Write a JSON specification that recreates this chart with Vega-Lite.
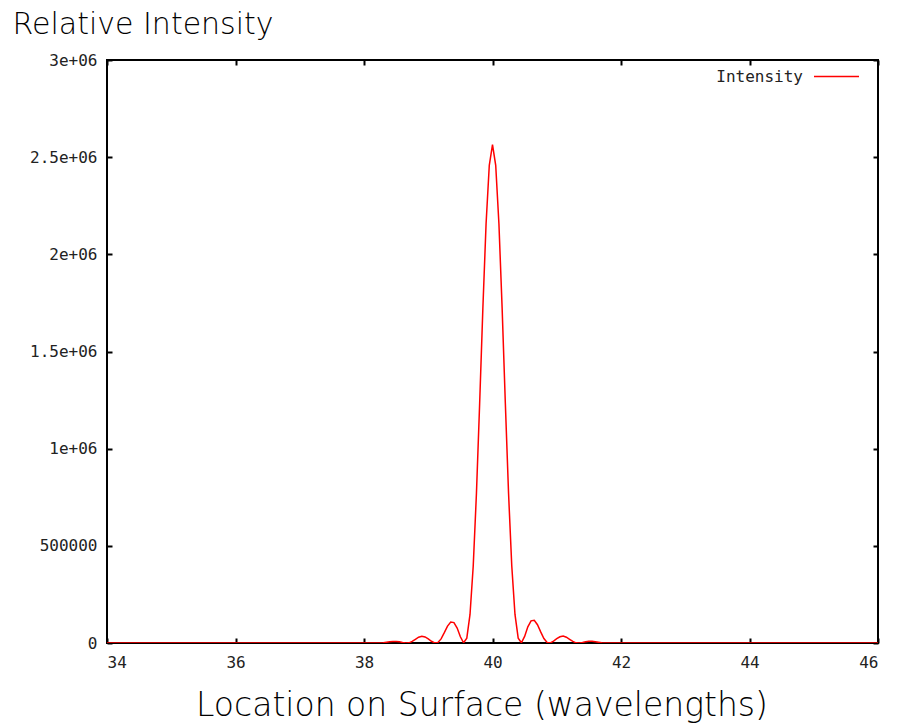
{
  "$schema": "https://vega.github.io/schema/vega-lite/v6.json",
  "autosize": "none",
  "width": 771,
  "height": 583,
  "padding": {"left": 107, "top": 60, "right": 19, "bottom": 85},
  "background": "#ffffff",
  "data": {
    "values": [
      {"x": 34.0, "y": 0, "series": "Intensity"},
      {"x": 38.2, "y": 0, "series": "Intensity"},
      {"x": 38.25, "y": 30, "series": "Intensity"},
      {"x": 38.3, "y": 1200, "series": "Intensity"},
      {"x": 38.35, "y": 3700, "series": "Intensity"},
      {"x": 38.4, "y": 6500, "series": "Intensity"},
      {"x": 38.45, "y": 8300, "series": "Intensity"},
      {"x": 38.5, "y": 8200, "series": "Intensity"},
      {"x": 38.55, "y": 6200, "series": "Intensity"},
      {"x": 38.6, "y": 3000, "series": "Intensity"},
      {"x": 38.65, "y": 500, "series": "Intensity"},
      {"x": 38.7, "y": 900, "series": "Intensity"},
      {"x": 38.75, "y": 8000, "series": "Intensity"},
      {"x": 38.8, "y": 19000, "series": "Intensity"},
      {"x": 38.85, "y": 30000, "series": "Intensity"},
      {"x": 38.9, "y": 35000, "series": "Intensity"},
      {"x": 38.95, "y": 31000, "series": "Intensity"},
      {"x": 39.0, "y": 21000, "series": "Intensity"},
      {"x": 39.05, "y": 9000, "series": "Intensity"},
      {"x": 39.1, "y": 1000, "series": "Intensity"},
      {"x": 39.15, "y": 3000, "series": "Intensity"},
      {"x": 39.2, "y": 21000, "series": "Intensity"},
      {"x": 39.25, "y": 53000, "series": "Intensity"},
      {"x": 39.3, "y": 87000, "series": "Intensity"},
      {"x": 39.35, "y": 108000, "series": "Intensity"},
      {"x": 39.4, "y": 105000, "series": "Intensity"},
      {"x": 39.45, "y": 77000, "series": "Intensity"},
      {"x": 39.5, "y": 32000, "series": "Intensity"},
      {"x": 39.55, "y": 1200, "series": "Intensity"},
      {"x": 39.6, "y": 25000, "series": "Intensity"},
      {"x": 39.65, "y": 147000, "series": "Intensity"},
      {"x": 39.7, "y": 396000, "series": "Intensity"},
      {"x": 39.75, "y": 769000, "series": "Intensity"},
      {"x": 39.8, "y": 1232000, "series": "Intensity"},
      {"x": 39.85, "y": 1722000, "series": "Intensity"},
      {"x": 39.9, "y": 2157000, "series": "Intensity"},
      {"x": 39.95, "y": 2458000, "series": "Intensity"},
      {"x": 40.0, "y": 2565000, "series": "Intensity"},
      {"x": 40.05, "y": 2458000, "series": "Intensity"},
      {"x": 40.1, "y": 2157000, "series": "Intensity"},
      {"x": 40.15, "y": 1722000, "series": "Intensity"},
      {"x": 40.2, "y": 1232000, "series": "Intensity"},
      {"x": 40.25, "y": 769000, "series": "Intensity"},
      {"x": 40.3, "y": 396000, "series": "Intensity"},
      {"x": 40.35, "y": 147000, "series": "Intensity"},
      {"x": 40.4, "y": 25000, "series": "Intensity"},
      {"x": 40.45, "y": 1200, "series": "Intensity"},
      {"x": 40.5, "y": 34000, "series": "Intensity"},
      {"x": 40.55, "y": 83000, "series": "Intensity"},
      {"x": 40.6, "y": 114000, "series": "Intensity"},
      {"x": 40.65, "y": 117000, "series": "Intensity"},
      {"x": 40.7, "y": 94000, "series": "Intensity"},
      {"x": 40.75, "y": 57000, "series": "Intensity"},
      {"x": 40.8, "y": 23000, "series": "Intensity"},
      {"x": 40.85, "y": 3000, "series": "Intensity"},
      {"x": 40.9, "y": 1000, "series": "Intensity"},
      {"x": 40.95, "y": 9500, "series": "Intensity"},
      {"x": 41.0, "y": 22000, "series": "Intensity"},
      {"x": 41.05, "y": 32000, "series": "Intensity"},
      {"x": 41.1, "y": 36000, "series": "Intensity"},
      {"x": 41.15, "y": 30000, "series": "Intensity"},
      {"x": 41.2, "y": 19000, "series": "Intensity"},
      {"x": 41.25, "y": 8000, "series": "Intensity"},
      {"x": 41.3, "y": 900, "series": "Intensity"},
      {"x": 41.35, "y": 500, "series": "Intensity"},
      {"x": 41.4, "y": 3000, "series": "Intensity"},
      {"x": 41.45, "y": 6500, "series": "Intensity"},
      {"x": 41.5, "y": 8800, "series": "Intensity"},
      {"x": 41.55, "y": 8800, "series": "Intensity"},
      {"x": 41.6, "y": 6500, "series": "Intensity"},
      {"x": 41.65, "y": 3700, "series": "Intensity"},
      {"x": 41.7, "y": 1200, "series": "Intensity"},
      {"x": 41.75, "y": 30, "series": "Intensity"},
      {"x": 41.8, "y": 0, "series": "Intensity"},
      {"x": 46.0, "y": 0, "series": "Intensity"}
    ]
  },
  "layer": [
    {
      "mark": {"type": "line", "strokeWidth": 1.5, "interpolate": "linear", "clip": true},
      "encoding": {
        "x": {
          "field": "x", "type": "quantitative",
          "scale": {"domain": [34, 46], "nice": false, "zero": false},
          "axis": {
            "orient": "bottom",
            "values": [34, 36, 38, 40, 42, 44, 46],
            "title": "Location on Surface (wavelengths)",
            "titleFont": "DejaVu Sans",
            "titleFontWeight": 200,
            "titleFontSize": 33,
            "titleColor": "#000000",
            "titleAlign": "center",
            "titleBaseline": "alphabetic",
            "titleX": 374.5,
            "titleY": 72,
            "labelPadding": 16
          }
        },
        "y": {
          "field": "y", "type": "quantitative",
          "scale": {"domain": [0, 3000000], "nice": false},
          "axis": {
            "orient": "left",
            "values": [0, 500000, 1000000, 1500000, 2000000, 2500000, 3000000],
            "labelExpr": "datum.value == 0 ? '0' : datum.value == 500000 ? '500000' : (datum.value / 1000000) + 'e+06'",
            "title": "Relative Intensity",
            "titleFont": "DejaVu Sans",
            "titleFontWeight": 200,
            "titleFontSize": 30,
            "titleColor": "#000000",
            "titleAngle": 0,
            "titleAlign": "left",
            "titleBaseline": "alphabetic",
            "titleX": -95,
            "titleY": -27,
            "labelPadding": 15
          }
        },
        "color": {
          "field": "series", "type": "nominal",
          "scale": {"range": ["#ff0000"]},
          "legend": {
            "title": null,
            "orient": "none",
            "legendX": 706,
            "legendY": -7,
            "padding": 0,
            "symbolType": "stroke",
            "symbolSize": 2025,
            "symbolStrokeWidth": 1.5,
            "symbolOffset": 0,
            "labelAlign": "right",
            "labelOffset": -57,
            "labelFont": "DejaVu Sans Mono",
            "labelFontSize": 16,
            "labelColor": "#222222"
          }
        }
      }
    },
    {
      "mark": {"type": "line", "strokeOpacity": 0},
      "encoding": {
        "x": {
          "field": "x", "type": "quantitative",
          "scale": {"domain": [34, 46], "nice": false, "zero": false},
          "axis": {"orient": "top", "values": [34, 36, 38, 40, 42, 44, 46], "labels": false, "title": null}
        },
        "y": {
          "field": "y", "type": "quantitative",
          "scale": {"domain": [0, 3000000], "nice": false},
          "axis": {"orient": "right", "values": [0, 500000, 1000000, 1500000, 2000000, 2500000, 3000000], "labels": false, "title": null}
        }
      }
    }
  ],
  "resolve": {"axis": {"x": "independent", "y": "independent"}},
  "config": {
    "view": {"stroke": "#000000", "strokeWidth": 2},
    "axis": {
      "domain": false,
      "grid": false,
      "ticks": true,
      "tickSize": -5,
      "tickWidth": 2,
      "tickColor": "#000000",
      "labelFont": "DejaVu Sans Mono",
      "labelFontSize": 16,
      "labelColor": "#222222"
    }
  }
}
